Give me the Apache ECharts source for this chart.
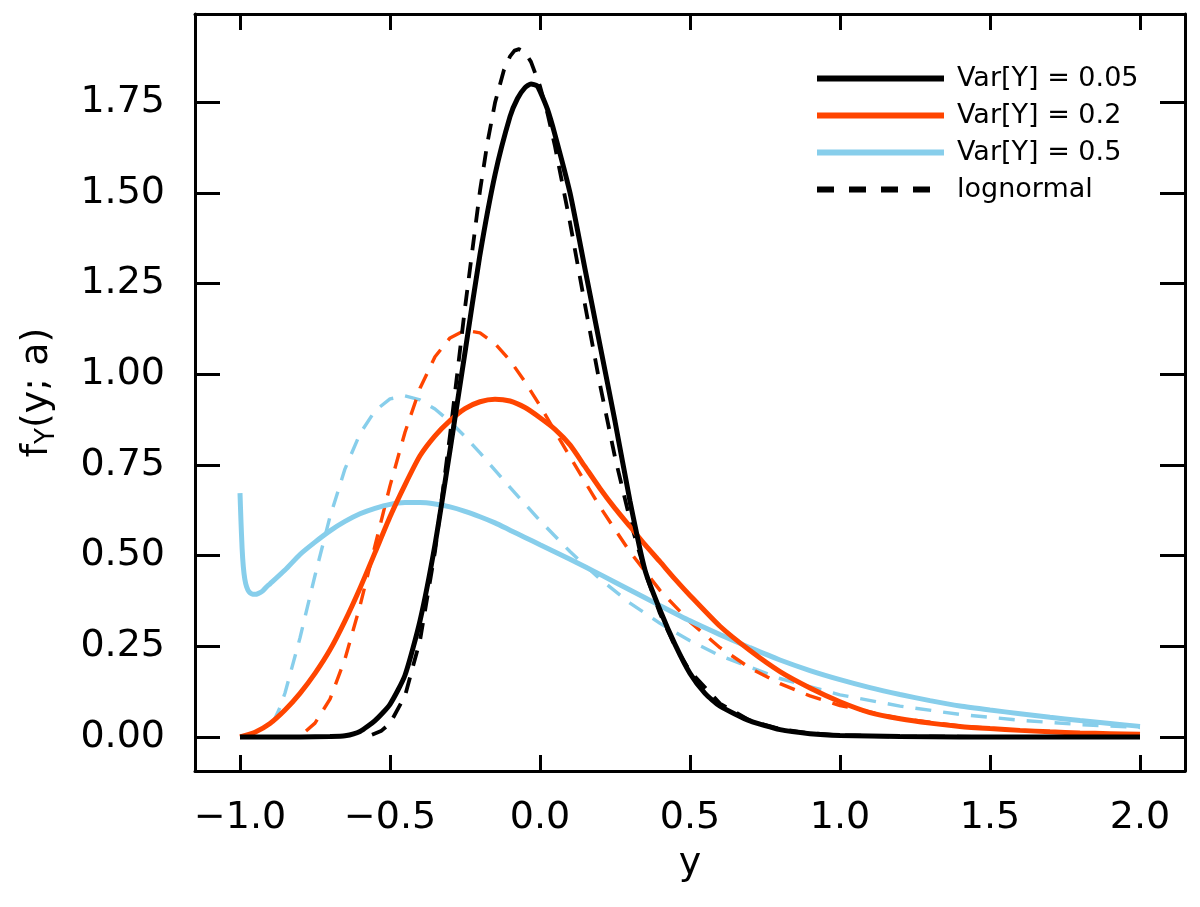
<!DOCTYPE html>
<html>
<head>
<meta charset="utf-8">
<script src="https://cdn.jsdelivr.net/npm/echarts@6/dist/echarts.min.js"></script>
<style>
html,body{margin:0;padding:0;background:#fff;}
#chart{width:1200px;height:907px;}
</style>
</head>
<body>
<div id="chart"></div>
<script>
// ---- tick values ----
const xTicks = [-1.0, -0.5, 0.0, 0.5, 1.0, 1.5, 2.0];
const yTicks = [0, 0.25, 0.5, 0.75, 1.0, 1.25, 1.5, 1.75];

// ---- Var[Y] = 0.05 (solid black) ----
const blackSolidX = [-1.0, -0.9, -0.8, -0.7, -0.65, -0.6, -0.55, -0.5, -0.45, -0.4, -0.35, -0.3, -0.25, -0.2, -0.15, -0.1, -0.075, -0.05, -0.03, -0.01, 0.0, 0.025, 0.05, 0.1, 0.15, 0.2, 0.25, 0.3, 0.35, 0.4, 0.45, 0.5, 0.55, 0.6, 0.7, 0.8, 0.9, 1.0, 1.2, 1.4, 2.0];
const blackSolidY = [0, 0, 0, 0.001, 0.003, 0.015, 0.045, 0.09, 0.17, 0.32, 0.53, 0.79, 1.06, 1.33, 1.55, 1.71, 1.76, 1.79, 1.80, 1.795, 1.78, 1.73, 1.66, 1.50, 1.29, 1.08, 0.87, 0.65, 0.46, 0.35, 0.255, 0.175, 0.12, 0.085, 0.044, 0.02, 0.009, 0.004, 0.001, 0, 0];

// ---- Var[Y] = 0.2 (solid red) ----
const redSolidX = [-1.0, -0.95, -0.9, -0.85, -0.8, -0.75, -0.7, -0.65, -0.6, -0.55, -0.5, -0.45, -0.4, -0.35, -0.3, -0.25, -0.2, -0.15, -0.1, -0.05, 0.0, 0.05, 0.1, 0.15, 0.2, 0.25, 0.3, 0.35, 0.4, 0.45, 0.5, 0.6, 0.7, 0.8, 0.9, 1.0, 1.1, 1.2, 1.3, 1.4, 1.5, 1.6, 1.7, 1.8, 1.9, 2.0];
const redSolidY = [0, 0.013, 0.037, 0.074, 0.12, 0.175, 0.24, 0.32, 0.41, 0.508, 0.607, 0.695, 0.775, 0.83, 0.872, 0.905, 0.924, 0.931, 0.926, 0.908, 0.88, 0.848, 0.805, 0.745, 0.685, 0.63, 0.58, 0.53, 0.483, 0.435, 0.39, 0.305, 0.238, 0.18, 0.135, 0.097, 0.067, 0.05, 0.038, 0.029, 0.023, 0.018, 0.014, 0.011, 0.009, 0.007];

// ---- Var[Y] = 0.5 (solid sky blue) ----
const blueSolidX = [-1.0, -0.997, -0.993, -0.989, -0.984, -0.978, -0.97, -0.96, -0.95, -0.94, -0.925, -0.911, -0.9, -0.85, -0.8, -0.75, -0.7, -0.65, -0.6, -0.55, -0.5, -0.45, -0.4, -0.35, -0.3, -0.25, -0.2, -0.15, -0.1, -0.05, 0.0, 0.1, 0.2, 0.3, 0.4, 0.5, 0.6, 0.7, 0.8, 0.9, 1.0, 1.1, 1.2, 1.3, 1.4, 1.5, 1.6, 1.7, 1.8, 1.9, 2.0];
const blueSolidY = [0.672, 0.6, 0.52, 0.47, 0.435, 0.414, 0.40, 0.394, 0.393, 0.395, 0.402, 0.414, 0.422, 0.46, 0.503, 0.537, 0.568, 0.594, 0.615, 0.63, 0.641, 0.646, 0.646, 0.642, 0.634, 0.622, 0.607, 0.59, 0.57, 0.55, 0.53, 0.49, 0.448, 0.405, 0.362, 0.32, 0.282, 0.246, 0.212, 0.183, 0.158, 0.136, 0.117, 0.1, 0.085, 0.074, 0.064, 0.054, 0.045, 0.037, 0.029];

// ---- lognormal counterparts (dashed) ----
const blackDashX = [-0.56, -0.53, -0.5, -0.45, -0.4, -0.35, -0.3, -0.25, -0.2, -0.175, -0.15, -0.12, -0.1, -0.085, -0.07, -0.05, -0.03, 0.0, 0.025, 0.05, 0.1, 0.15, 0.2, 0.25, 0.3, 0.35, 0.4, 0.45, 0.5, 0.6, 0.7, 0.8, 0.9, 1.0, 1.2, 1.5, 2.0];
const blackDashY = [0.006, 0.016, 0.037, 0.113, 0.266, 0.511, 0.832, 1.183, 1.506, 1.639, 1.748, 1.839, 1.876, 1.892, 1.896, 1.887, 1.861, 1.794, 1.719, 1.628, 1.418, 1.191, 0.971, 0.771, 0.598, 0.455, 0.340, 0.250, 0.181, 0.092, 0.045, 0.0215, 0.010, 0.0046, 0.0009, 0.0001, 0];

const redDashX = [-0.78, -0.75, -0.7, -0.65, -0.6, -0.55, -0.5, -0.45, -0.4, -0.35, -0.3, -0.25, -0.2, -0.15, -0.1, -0.05, 0.0, 0.1, 0.2, 0.3, 0.4, 0.5, 0.6, 0.7, 0.8, 0.9, 1.0, 1.2, 1.4, 1.6, 1.8, 2.0];
const redDashY = [0.0165, 0.038, 0.104, 0.215, 0.361, 0.527, 0.692, 0.840, 0.961, 1.048, 1.100, 1.121, 1.114, 1.084, 1.038, 0.979, 0.913, 0.772, 0.634, 0.510, 0.404, 0.317, 0.246, 0.190, 0.147, 0.113, 0.0865, 0.0508, 0.030, 0.0178, 0.0107, 0.0064];

const blueDashX = [-0.89, -0.87, -0.85, -0.8, -0.75, -0.7, -0.65, -0.6, -0.55, -0.5, -0.45, -0.4, -0.35, -0.3, -0.25, -0.2, -0.1, 0.0, 0.1, 0.2, 0.3, 0.4, 0.5, 0.6, 0.8, 1.0, 1.2, 1.4, 1.6, 1.8, 2.0];
const blueDashY = [0.040, 0.075, 0.121, 0.273, 0.445, 0.607, 0.739, 0.836, 0.899, 0.932, 0.940, 0.929, 0.904, 0.869, 0.828, 0.783, 0.688, 0.596, 0.511, 0.435, 0.369, 0.313, 0.265, 0.224, 0.161, 0.116, 0.085, 0.062, 0.046, 0.034, 0.026];

const legendNames = ['Var[Y] = 0.05', 'Var[Y] = 0.2', 'Var[Y] = 0.5', 'lognormal'];

const BLACK = '#000000', RED = '#FF4500', BLUE = '#87CEEB';
const FONT = 'DejaVu Sans';

function zip(xs, ys) { return xs.map((x, i) => [x, ys[i]]); }

function lineSeries(name, xs, ys, color, width) {
  return {
    name: name,
    type: 'line',
    data: zip(xs, ys),
    symbol: 'none',
    showSymbol: false,
    smooth: 0.2,
    animation: false,
    clip: true,
    lineStyle: { color: color, width: width, type: 'solid' },
    itemStyle: { color: color },
    emphasis: { disabled: true }
  };
}

// dashed curve: points mapped through the axes with api.coord, then stroked as dash pieces
function dashedSeries(name, xs, ys, color, width, dash, gap) {
  return {
    name: name,
    type: 'custom',
    coordinateSystem: 'cartesian2d',
    xAxisIndex: 0,
    yAxisIndex: 0,
    data: zip(xs, ys),
    clip: true,
    animation: false,
    silent: true,
    renderItem: function (params, api) {
      if (params.dataIndex !== 0) return null;
      const pts = xs.map((x, i) => api.coord([x, ys[i]]));
      let d = '';
      let drawing = true, remain = dash, open = false;
      for (let i = 1; i < pts.length; i++) {
        const x0 = pts[i - 1][0], y0 = pts[i - 1][1];
        const x1 = pts[i][0], y1 = pts[i][1];
        const len = Math.hypot(x1 - x0, y1 - y0);
        if (len === 0) continue;
        let t = 0;
        while (len - t > 1e-6) {
          const step = Math.min(remain, len - t);
          const ax = x0 + (x1 - x0) * t / len, ay = y0 + (y1 - y0) * t / len;
          const bx = x0 + (x1 - x0) * (t + step) / len, by = y0 + (y1 - y0) * (t + step) / len;
          if (drawing) {
            if (!open) { d += 'M' + ax.toFixed(2) + ' ' + ay.toFixed(2); open = true; }
            d += 'L' + bx.toFixed(2) + ' ' + by.toFixed(2);
          }
          t += step;
          remain -= step;
          if (remain <= 1e-6) {
            drawing = !drawing;
            remain = drawing ? dash : gap;
            open = false;
          }
        }
      }
      return {
        type: 'path',
        shape: { pathData: d },
        style: { fill: 'none', stroke: color, lineWidth: width, lineCap: 'butt', lineJoin: 'round' }
      };
    }
  };
}

const fmtX = v => (v < 0 ? '\u2212' : '') + Math.abs(v).toFixed(1);
const fmtY = v => v.toFixed(2);

const axisLineStyle = { show: true, onZero: false, lineStyle: { color: '#000', width: 3 } };

const chart = echarts.init(document.getElementById('chart'), null, { renderer: 'canvas' });
chart.setOption({
  backgroundColor: '#ffffff',
  animation: false,
  grid: { left: 195, right: 15, top: 14, bottom: 136, containLabel: false },
  legend: {
    data: [
      { name: legendNames[0] },
      { name: legendNames[1] },
      { name: legendNames[2] },
      { name: legendNames[3], lineStyle: { type: [17, 15] } }
    ],
    orient: 'vertical',
    left: 814,
    top: 65,
    padding: 0,
    itemWidth: 127,
    itemHeight: 14,
    itemGap: 10,
    itemStyle: { opacity: 0 },
    lineStyle: { width: 6 },
    textStyle: { fontFamily: FONT, fontSize: 27, color: '#000', lineHeight: 24, padding: [0, 0, 0, 8] },
    selectedMode: false
  },
  xAxis: [
    {
      type: 'value', min: -1.15, max: 2.15, position: 'bottom',
      axisLine: axisLineStyle,
      axisTick: { show: true, inside: true, length: 16, customValues: xTicks, lineStyle: { color: '#000', width: 3 } },
      axisLabel: { show: true, customValues: xTicks, formatter: fmtX, margin: 28, fontFamily: FONT, fontSize: 38, color: '#000' },
      splitLine: { show: false },
      name: 'y', nameLocation: 'middle', nameGap: 74,
      nameTextStyle: { fontFamily: FONT, fontSize: 38, color: '#000' }
    },
    {
      type: 'value', min: -1.15, max: 2.15, position: 'top',
      axisLine: axisLineStyle,
      axisTick: { show: true, inside: true, length: 16, customValues: xTicks, lineStyle: { color: '#000', width: 3 } },
      axisLabel: { show: false },
      splitLine: { show: false }
    }
  ],
  yAxis: [
    {
      type: 'value', min: -0.094, max: 1.993, position: 'left',
      axisLine: axisLineStyle,
      axisTick: { show: true, inside: true, length: 25, customValues: yTicks, lineStyle: { color: '#000', width: 3 } },
      axisLabel: { show: true, customValues: yTicks, formatter: fmtY, margin: 30, fontFamily: FONT, fontSize: 38, color: '#000' },
      splitLine: { show: false },
      name: '{f|f}{s|Y}{f|(y; a)}', nameLocation: 'middle', nameGap: 135,
      nameTextStyle: {
        fontFamily: FONT, fontSize: 38, color: '#000',
        rich: {
          f: { fontFamily: FONT, fontSize: 38, color: '#000', lineHeight: 46 },
          s: { fontFamily: FONT, fontSize: 26, color: '#000', lineHeight: 26, verticalAlign: 'bottom' }
        }
      }
    },
    {
      type: 'value', min: -0.094, max: 1.993, position: 'right',
      axisLine: axisLineStyle,
      axisTick: { show: true, inside: true, length: 25, customValues: yTicks, lineStyle: { color: '#000', width: 3 } },
      axisLabel: { show: false },
      splitLine: { show: false }
    }
  ],
  series: [
    lineSeries(legendNames[2], blueSolidX, blueSolidY, BLUE, 5),
    dashedSeries('lognormal 0.5', blueDashX, blueDashY, BLUE, 3.4, 16, 12),
    lineSeries(legendNames[1], redSolidX, redSolidY, RED, 5),
    dashedSeries('lognormal 0.2', redDashX, redDashY, RED, 3.4, 16, 12),
    lineSeries(legendNames[0], blackSolidX, blackSolidY, BLACK, 5),
    dashedSeries('lognormal 0.05', blackDashX, blackDashY, BLACK, 3.8, 16, 12),
    // legend entry for the dashed lognormal curves
    { name: legendNames[3], type: 'line', data: [], symbol: 'none',
      lineStyle: { color: BLACK, width: 4, type: [17, 15] }, itemStyle: { color: BLACK } }
  ]
});
</script>
</body>
</html>
